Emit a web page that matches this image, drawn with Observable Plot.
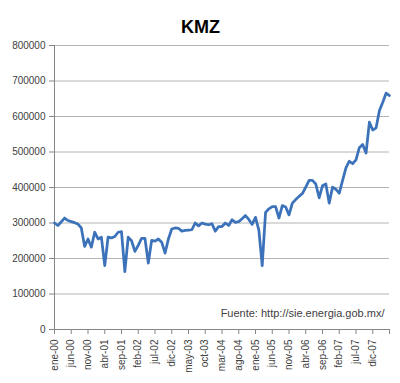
<!DOCTYPE html>
<html><head><meta charset="utf-8">
<script src="https://cdn.jsdelivr.net/npm/d3@7"></script>
<script src="https://cdn.jsdelivr.net/npm/@observablehq/plot@0.6"></script>
<style>body{margin:0;background:#fff}</style>
</head><body><div id="chart"></div>
<script>
const title = "KMZ";
const source = "Fuente: http://sie.energia.gob.mx/";
const tickLabels = ["ene-00","jun-00","nov-00","abr-01","sep-01","feb-02","jul-02","dic-02","may-03","oct-03","mar-04","ago-04","ene-05","jun-05","nov-05","abr-06","sep-06","feb-07","jul-07","dic-07"];
const yTicks = [0,100000,200000,300000,400000,500000,600000,700000,800000];
const values = [
  300000,293000,303000,314000,307000,304000,301000,297000,286000,234000,
  255000,232000,274000,255000,260000,180000,260000,258000,262000,274000,
  276000,163000,260000,250000,220000,237000,257000,257000,187000,251000,
  249000,255000,246000,215000,255000,283000,286000,285000,277000,279000,
  280000,281000,300000,292000,300000,297000,295000,298000,277000,290000,
  290000,300000,293000,309000,302000,304000,312000,321000,310000,296000,
  316000,280000,180000,330000,340000,346000,346000,314000,349000,345000,
  323000,356000,366000,375000,383000,401000,420000,420000,410000,371000,
  405000,410000,356000,401000,395000,384000,420000,455000,474000,467000,
  478000,512000,521000,497000,584000,562000,568000,617000,640000,666000,
  659000
];
const data = values.map((v, i) => ({i, v}));
const chart = Plot.plot({
  width: 400, height: 383,
  marginLeft: 54, marginRight: 11, marginTop: 45, marginBottom: 54,
  style: {fontFamily: "'Liberation Sans', Arial, sans-serif", fontSize: "10px", color: "#404040", background: "#fff"},
  x: {domain: [0, 100]},
  y: {domain: [0, 800000]},
  marks: [
    Plot.gridY(yTicks.slice(1), {stroke: "#b4b4b4", strokeOpacity: 1}),
    Plot.axisY(yTicks, {tickSize: 5, tickPadding: 4, stroke: "#868686", fill: "#404040", tickFormat: d => String(d), label: null}),
    Plot.axisX(d3.range(0, 101, 5), {tickSize: 5, tickPadding: 5, tickRotate: -90, stroke: "#868686", fill: "#404040", tickFormat: i => tickLabels[i / 5] ?? "", label: null}),
    Plot.ruleX([0], {stroke: "#868686"}),
    Plot.ruleY([0], {stroke: "#868686"}),
    Plot.line(data, {x: "i", y: "v", stroke: "#3c72b9", strokeWidth: 2.75, strokeLinejoin: "round"}),
    Plot.text([title], {frameAnchor: "top", dx: -21.5, dy: -25.5, fontSize: 18, fontWeight: "bold", fill: "#000"}),
    Plot.text([source], {frameAnchor: "bottom-right", dx: -5, dy: -13, textAnchor: "end", fontSize: 11, fill: "#404040"})
  ]
});
document.getElementById("chart").append(chart);
</script>
</body></html>
